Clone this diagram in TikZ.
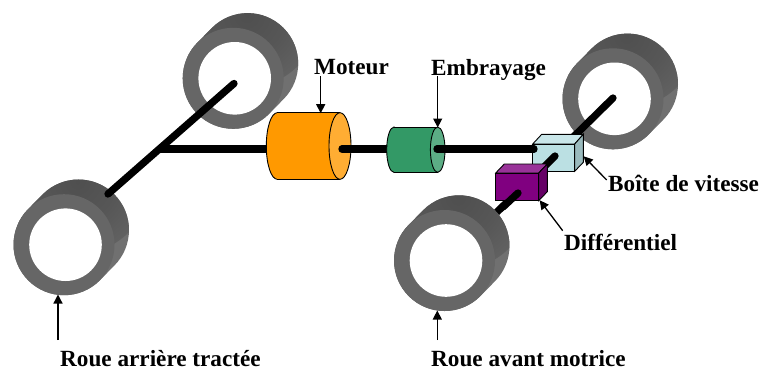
\documentclass[tikz,border=0pt]{standalone}
\usepackage{fontspec}
\setmainfont{Liberation Serif}
\usetikzlibrary{arrows.meta}
\definecolor{wheelfront}{HTML}{666666}
\definecolor{wheeledge}{HTML}{707070}
\definecolor{motorbody}{HTML}{FF9900}
\definecolor{motorface}{HTML}{FFAD33}
\definecolor{clutchbody}{HTML}{339966}
\definecolor{clutchface}{HTML}{5CAD85}
\definecolor{gearfront}{HTML}{BBE0E3}
\definecolor{geartop}{HTML}{C9E6E9}
\definecolor{gearside}{HTML}{9ABABD}
\definecolor{difffront}{HTML}{800080}
\definecolor{difftop}{HTML}{993399}
\definecolor{diffside}{HTML}{660066}
\pgfdeclareradialshading{wheelside}{\pgfpoint{0bp}{0bp}}{%
  rgb(0bp)=(0.31,0.31,0.31);rgb(14bp)=(0.34,0.34,0.34);rgb(30bp)=(0.40,0.40,0.40);rgb(50bp)=(0.44,0.44,0.44)}
\tikzset{
  shaft/.style={line width=7.3pt,line cap=round,black},
  pointer/.style={line width=1.3pt,black,-{Triangle[length=9pt,width=9pt]},shorten >=-0.5pt},
  partline/.style={draw=black,line width=0.9pt},
  caption/.style={anchor=base west,inner sep=0pt,font=\fontsize{23.2}{26}\selectfont\bfseries},
  wheeldisc/.style={circle,fill=wheelfront,minimum size=101pt,inner sep=0pt},
  wheelhole/.style={circle,fill=white,minimum size=72.6pt,inner sep=0pt}
}
\newcommand{\wheelat}[3]{%
  \begin{scope}[shift={(#2,#3)},y=1pt]
    \begin{scope}
      \clip (34.2,-35.7) -- (48.7,-21) arc[start angle=-45,end angle=135,radius=50.5]
        -- (-37.2,35.7) arc[start angle=135,end angle=315,radius=50.5] -- cycle;
      \fill[wheeledge] (-60,-60) rectangle (80,80);
      \shade[shading=wheelside] (12,63) circle[radius=72];
    \end{scope}
    \node[wheeldisc] (#1) at (-1.5,0) {};
    \node[wheelhole] (#1hole) at (0,0) {};
  \end{scope}}
\newcommand{\cylinderat}[8]{% name, left centre x, right centre x, mid y, rx, ry, body, face
  \filldraw[partline,fill=#7] (#2,#4) ellipse[x radius=#5,y radius=#6];
  \fill[#7] (#2,#4-#6) rectangle (#3,#4+#6);
  \draw[partline] (#2,#4-#6) -- (#3,#4-#6) (#2,#4+#6) -- (#3,#4+#6);
  \filldraw[partline,fill=#8] (#3,#4) ellipse[x radius=#5,y radius=#6];
  \coordinate (#1) at (#3,#4-#6);}
\begin{document}
\begin{tikzpicture}[x=1pt,y=-1pt]
\useasboundingbox (0,0) rectangle (760,370);
% wheels
\wheelat{wheelA}{234.7}{78.3}
\wheelat{wheelB}{65.5}{244.7}
\wheelat{wheelC}{614.5}{98.8}
% shafts under parts
\coordinate (axleAend) at (234,83.5);
\coordinate (axleBend) at (108,194);
\coordinate (joint) at (160,149);
\coordinate (motorin) at (280,149);
\draw[shaft] (axleAend) -- (axleBend);
\draw[shaft,line cap=butt] (joint) -- (motorin);
\coordinate (axleCend) at (613,98);
\coordinate (axleDend) at (495,214);
\draw[shaft] (axleCend) -- (axleDend);
\wheelat{wheelD}{446}{260.5}
% motor
\cylinderat{motorTop}{277.3}{340}{146}{11}{33.3}{motorbody}{motorface}
\coordinate (motorout) at (342,149);
\coordinate (clutchin) at (400,149);
\draw[shaft] (motorout) -- (clutchin);
% clutch
\cylinderat{clutchTop}{394}{437.7}{149.7}{7.3}{22.7}{clutchbody}{clutchface}
% gearbox
\filldraw[partline,fill=geartop] (532.7,144) -- (541.7,134.3) -- (583.3,134.3) -- (574.7,144) -- cycle;
\filldraw[partline,fill=gearside] (574.7,144) -- (583.3,134.3) -- (583.3,162.3) -- (574.7,171.3) -- cycle;
\filldraw[partline,fill=gearfront] (532.7,144) rectangle (574.7,171.3);
\coordinate (clutchout) at (437,149);
\coordinate (gearin) at (534,149);
\draw[shaft] (clutchout) -- (gearin);
\coordinate (gearout) at (555,156);
\coordinate (diffin) at (535,176);
\draw[shaft] (gearout) -- (diffin);
% differential
\filldraw[partline,fill=difftop] (495.7,173) -- (504.3,164) -- (547.3,164) -- (538.7,173) -- cycle;
\filldraw[partline,fill=diffside] (538.7,173) -- (547.3,164) -- (547.3,191.7) -- (538.7,200.7) -- cycle;
\filldraw[partline,fill=difffront] (495.7,173) rectangle (538.7,200.7);
\coordinate (diffout) at (518,193);
\coordinate (diffend) at (503,207);
\draw[shaft] (diffout) -- (diffend);
% captions
\node[caption] (moteur) at (314,74) {Moteur};
\node[caption] (embrayage) at (431,75) {Embrayage};
\node[caption] (boite) at (608,191) {Boîte de vitesse};
\node[caption] (diff) at (564,250) {Différentiel};
\node[caption] (rear) at (60,366) {Roue arrière tractée};
\node[caption] (front) at (431,366) {Roue avant motrice};
% pointers
\coordinate (p1) at (320.7,76);
\coordinate (p2) at (437.7,76);
\coordinate (p3) at (606.7,180);
\coordinate (p3e) at (584,156.7);
\coordinate (p4) at (562.7,230.7);
\coordinate (p4e) at (540,200.7);
\coordinate (p5) at (58,340);
\coordinate (p5e) at (58,295);
\coordinate (p6) at (437.3,340);
\coordinate (p6e) at (437.3,311);
\draw[pointer] (p1) -- (p1 |- motorTop);
\draw[pointer] (p2) -- (p2 |- clutchTop);
\draw[pointer] (p3) -- (p3e);
\draw[pointer] (p4) -- (p4e);
\draw[pointer] (p5) -- (p5e);
\draw[pointer] (p6) -- (p6e);
\end{tikzpicture}
\end{document}
